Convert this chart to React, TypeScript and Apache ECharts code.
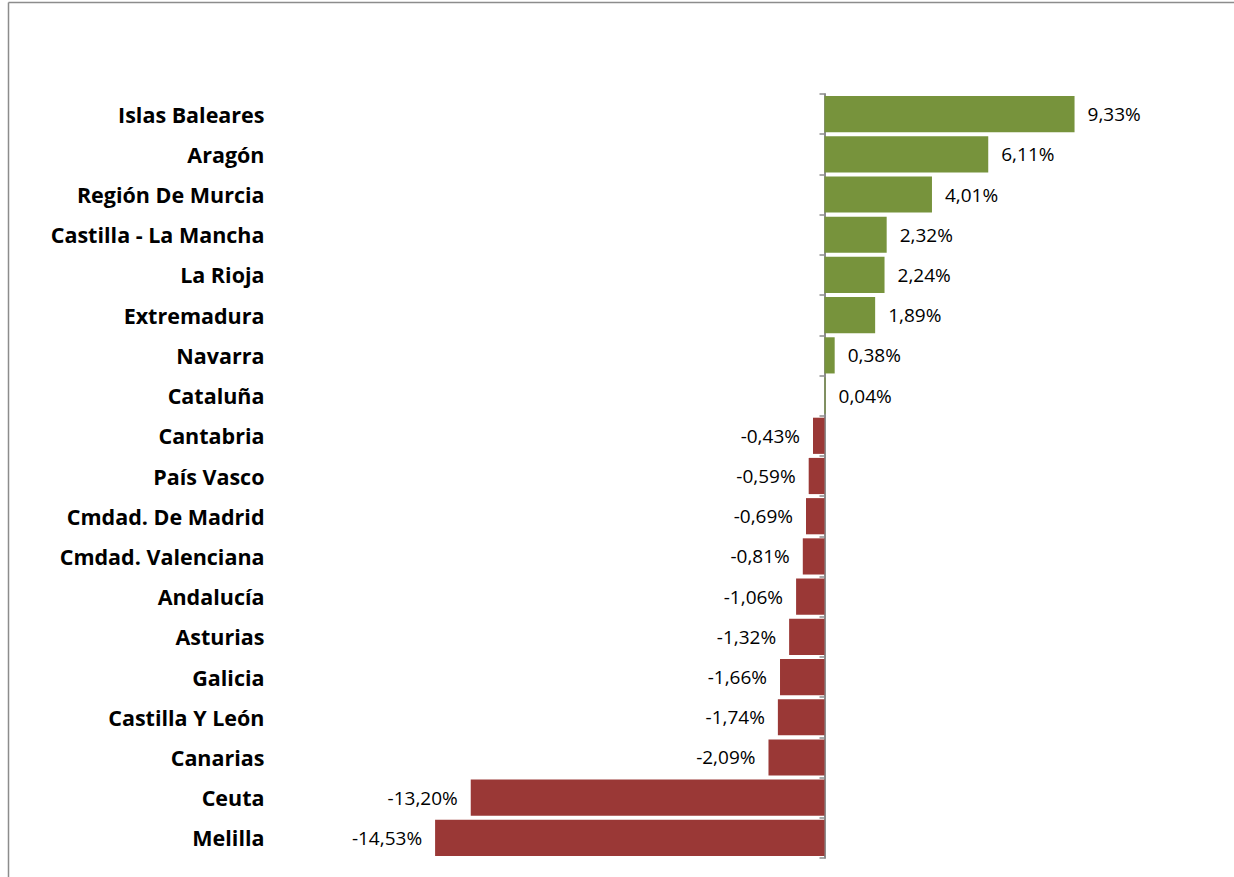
import React, { useEffect, useRef } from "react";
import * as echarts from "echarts";

const categories = [
  "Islas Baleares",
  "Aragón",
  "Región De Murcia",
  "Castilla - La Mancha",
  "La Rioja",
  "Extremadura",
  "Navarra",
  "Cataluña",
  "Cantabria",
  "País Vasco",
  "Cmdad. De Madrid",
  "Cmdad. Valenciana",
  "Andalucía",
  "Asturias",
  "Galicia",
  "Castilla Y León",
  "Canarias",
  "Ceuta",
  "Melilla",
];

const values = [
  9.33, 6.11, 4.01, 2.32, 2.24, 1.89, 0.38, 0.04, -0.43, -0.59, -0.69, -0.81,
  -1.06, -1.32, -1.66, -1.74, -2.09, -13.2, -14.53,
];

const GREEN = "#77933C";
const RED = "#9A3836";

export default function App() {
  const ref = useRef<HTMLDivElement>(null);
  useEffect(() => {
    if (!ref.current) return;
    const chart = echarts.init(ref.current, undefined, { renderer: "svg" });
    const fmt = (v: number) => v.toFixed(2).replace(".", ",") + "%";
    chart.setOption({
      animation: false,
      backgroundColor: "#ffffff",
      grid: {
        left: 288.5,
        right: 87.9,
        top: 94,
        bottom: 19,
        containLabel: false,
        outerBoundsMode: "none",
      },
      xAxis: {
        type: "value",
        min: -20,
        max: 12,
        show: false,
        splitLine: { show: false },
      },
      yAxis: {
        type: "category",
        inverse: true,
        data: categories,
        axisLine: { show: true, onZero: true, lineStyle: { color: "#8c8c8c", width: 2 } },
        axisTick: { show: true, length: 5, lineStyle: { color: "#8c8c8c", width: 1.5 } },
        axisLabel: {
          margin: 24,
          fontFamily: "Open Sans",
          fontWeight: "bold",
          fontSize: 21.5,
          color: "#000",
          padding: [0, 0, 4, 0],
        },
      },
      series: [
        {
          type: "bar",
          barCategoryGap: "10%",
          data: values.map((v) => ({
            value: v,
            itemStyle: { color: v >= 0 ? GREEN : RED },
            label: {
              show: true,
              position: v >= 0 ? "right" : "left",
              distance: 13,
              formatter: () => fmt(v),
              fontFamily: "Open Sans",
              fontSize: 19,
              color: "#000",
            },
          })),
        },
      ],
      graphic: [
        {
          type: "line",
          shape: { x1: 8.5, y1: 2.5, x2: 1234, y2: 2.5 },
          style: { stroke: "#8c8c8c", lineWidth: 1.5 },
        },
        {
          type: "line",
          shape: { x1: 8.5, y1: 2.5, x2: 8.5, y2: 877 },
          style: { stroke: "#8c8c8c", lineWidth: 1.5 },
        },
      ],
    });
    return () => chart.dispose();
  }, []);
  return (
    <div
      ref={ref}
      style={{ position: "absolute", left: 0, top: 0, width: 1234, height: 877 }}
    />
  );
}
